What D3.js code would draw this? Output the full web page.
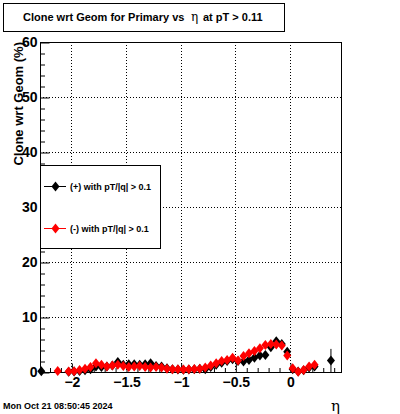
<!DOCTYPE html>
<html><head><meta charset="utf-8">
<script src="https://cdn.jsdelivr.net/npm/d3@7"></script>
<style>
html,body{margin:0;padding:0;background:#fff;}
svg{display:block;}
text{font-family:"Liberation Sans",Arial,sans-serif;}
</style></head>
<body>
<svg id="c" width="400" height="414"></svg>
<script>
// ---- data ----
const etaBins = [-2.275,-2.225,-2.175,-2.125,-2.075,-2.025,-1.975,-1.925,-1.875,-1.825,
  -1.775,-1.725,-1.675,-1.625,-1.575,-1.525,-1.475,-1.425,-1.375,-1.325,
  -1.275,-1.225,-1.175,-1.125,-1.075,-1.025,-0.975,-0.925,-0.875,-0.825,
  -0.775,-0.725,-0.675,-0.625,-0.575,-0.525,-0.475,-0.425,-0.375,-0.325,
  -0.275,-0.225,-0.175,-0.125,-0.075,-0.025,0.025,0.075,0.125,0.175,
  0.225,0.275,0.325,0.375];
const plusValues = [0.15,null,null,null,null,0.05,0.1,0.2,0.3,0.5,
  1.0,0.9,1.0,1.2,1.8,1.3,1.4,1.4,1.3,1.4,
  1.6,1.1,1.0,0.7,0.5,0.45,0.4,0.45,0.5,0.6,
  0.5,0.9,1.3,1.7,2.0,2.3,2.0,1.9,2.2,2.6,
  3.0,3.1,4.5,5.6,5.1,3.7,0.5,0.1,0.3,0.8,
  1.0,null,null,2.1];
const plusErrors = [0.1,0,0,0,0,0.05,0.1,0.15,0.2,0.25,
  0.3,0.3,0.3,0.3,0.4,0.3,0.3,0.3,0.3,0.3,
  0.3,0.3,0.3,0.25,0.2,0.2,0.2,0.2,0.2,0.25,
  0.2,0.3,0.35,0.4,0.4,0.45,0.4,0.4,0.45,0.5,
  0.5,0.5,0.6,0.7,0.6,0.6,0.3,0.1,0.2,0.4,
  0.5,0,0,2.1];
const minusValues = [null,null,null,0.2,null,0.1,0.15,0.35,0.6,0.9,
  1.6,1.3,1.0,1.2,1.3,1.1,0.9,1.0,1.1,0.9,
  0.8,0.9,0.8,0.6,0.5,0.5,0.45,0.5,0.55,0.6,
  0.8,1.2,1.6,2.0,2.2,2.6,2.1,2.9,3.4,3.8,
  4.3,4.9,5.1,5.0,4.8,3.0,0.7,0.05,0.35,1.0,
  1.3,null,null,null];
const minusErrors = [0,0,0,0.15,0,0.1,0.1,0.2,0.25,0.3,
  0.4,0.3,0.3,0.3,0.3,0.3,0.3,0.3,0.3,0.3,
  0.3,0.3,0.3,0.25,0.2,0.2,0.2,0.2,0.2,0.25,
  0.3,0.35,0.4,0.45,0.45,0.5,0.45,0.5,0.55,0.6,
  0.6,0.6,0.7,0.7,0.7,0.6,0.3,0.05,0.2,0.4,
  0.6,0,0,0];
const xMajorTicks = [-2,-1.5,-1,-0.5,0];
const xMinorTicks = [-2.2,-2.1,-1.9,-1.8,-1.7,-1.6,-1.4,-1.3,-1.2,-1.1,-0.9,-0.8,-0.7,-0.6,-0.4,-0.3,-0.2,-0.1,0.1,0.2,0.3,0.4];
const yMajorTicks = [0,10,20,30,40,50,60];
const yMinorTicks = [2,4,6,8,12,14,16,18,22,24,26,28,32,34,36,38,42,44,46,48,52,54,56,58];
const binHalfWidth = 0.025;
const titleMain = "Clone wrt Geom for Primary vs";
const titleEta = "η";
const titleRest = "at pT > 0.11";
const yTitle = "Clone wrt Geom (%)";
const xTitle = "η";
const legendLabels = ["(+) with pT/|q| > 0.1", "(-) with pT/|q| > 0.1"];
const dateText = "Mon Oct 21 08:50:45 2024";

// ---- drawing ----
const svg = d3.select("#c");
const L = 40, R = 341, T = 42, B = 372;
const x = d3.scaleLinear().domain([-2.287, 0.467]).range([L, R]);
const y = d3.scaleLinear().domain([0, 60]).range([B, T]);
const fmt = d => (d < 0 ? "\u2212" : "") + Math.abs(d);

// grid
const grid = svg.append("g").attr("stroke", "#000").attr("stroke-width", 1).attr("stroke-dasharray", "1,2");
grid.selectAll(".gx").data(xMajorTicks.filter(d => d !== 0 || true)).enter().append("line")
  .attr("x1", d => Math.round(x(d)) + 0.5).attr("x2", d => Math.round(x(d)) + 0.5)
  .attr("y1", T).attr("y2", B);
grid.selectAll(".gy").data(yMajorTicks.filter(d => d > 0 && d < 60)).enter().append("line")
  .attr("x1", L).attr("x2", R)
  .attr("y1", d => Math.round(y(d)) + 0.5).attr("y2", d => Math.round(y(d)) + 0.5);

// frame
svg.append("rect").attr("x", L + 0.5).attr("y", T + 0.5).attr("width", R - L).attr("height", B - T)
  .attr("fill", "none").attr("stroke", "#000").attr("stroke-width", 1);

// axes
const fontAx = "bold 14px 'Liberation Sans', Arial, sans-serif";
const gxMin = svg.append("g").attr("transform", `translate(0.5,${B + 0.5})`)
  .call(d3.axisBottom(x).tickValues(xMinorTicks).tickSize(-4.5).tickFormat(""));
const gxMaj = svg.append("g").attr("transform", `translate(0.5,${B + 0.5})`)
  .call(d3.axisBottom(x).tickValues(xMajorTicks).tickSize(-9).tickSizeOuter(0).tickPadding(5).tickFormat(fmt));
const gyMin = svg.append("g").attr("transform", `translate(${L + 0.5},0.5)`)
  .call(d3.axisLeft(y).tickValues(yMinorTicks).tickSize(-4.5).tickFormat(""));
const gyMaj = svg.append("g").attr("transform", `translate(${L + 0.5},0.5)`)
  .call(d3.axisLeft(y).tickValues(yMajorTicks).tickSize(-9).tickSizeOuter(0).tickPadding(3).tickFormat(fmt));
[gxMin, gxMaj, gyMin, gyMaj].forEach(g => {
  g.select(".domain").remove();
  g.selectAll("line").attr("stroke", "#000");
  g.selectAll("text").style("font", fontAx).attr("fill", "#000");
});

// data points
const diamond = "M0,-5L4,0L0,5L-4,0Z";
function drawSeries(vals, errs, color) {
  const pts = etaBins.map((e, i) => ({ e, v: vals[i], s: errs[i] })).filter(d => d.v !== null);
  const g = svg.append("g");
  g.selectAll(".ey").data(pts).enter().append("line")
    .attr("x1", d => x(d.e)).attr("x2", d => x(d.e))
    .attr("y1", d => y(Math.max(0, d.v - d.s))).attr("y2", d => y(d.v + d.s))
    .attr("stroke", color).attr("stroke-width", 1);
  g.selectAll(".ex").data(pts).enter().append("line")
    .attr("x1", d => x(d.e - binHalfWidth)).attr("x2", d => x(d.e + binHalfWidth))
    .attr("y1", d => y(d.v)).attr("y2", d => y(d.v))
    .attr("stroke", color).attr("stroke-width", 1);
  g.selectAll("path").data(pts).enter().append("path")
    .attr("d", diamond)
    .attr("transform", d => `translate(${x(d.e)},${y(d.v)})`)
    .attr("fill", color);
}
drawSeries(plusValues, plusErrors, "#000");
drawSeries(minusValues, minusErrors, "#ff0000");

// title box
svg.append("rect").attr("x", 3.5).attr("y", 3.5).attr("width", 281).attr("height", 28)
  .attr("fill", "#fff").attr("stroke", "#000");
const tt = svg.append("text").attr("y", 20.5).style("font", "bold 11px 'Liberation Sans', Arial, sans-serif");
tt.append("tspan").attr("x", 23).text(titleMain);
tt.append("tspan").attr("x", 191).style("font-weight", "normal").style("font-size", "12px")
  .style("font-family", "'DejaVu Serif', serif").text(titleEta);
tt.append("tspan").attr("x", 203).text(titleRest);

// y title
svg.append("text").attr("transform", "translate(23,42) rotate(-90)").attr("text-anchor", "end")
  .style("font", "bold 13px 'Liberation Sans', Arial, sans-serif").text(yTitle);
// x title
svg.append("text").attr("x", 340).attr("y", 411).attr("text-anchor", "end")
  .style("font", "15px 'DejaVu Serif', serif").text(xTitle);
// date
svg.append("text").attr("x", 3).attr("y", 408.5)
  .style("font", "bold 9px 'Liberation Sans', Arial, sans-serif").text(dateText);

// legend
svg.append("rect").attr("x", 40.5).attr("y", 165.5).attr("width", 120).attr("height", 83)
  .attr("fill", "#fff").attr("stroke", "#000");
const legColors = ["#000", "#ff0000"];
const legY = [186.5, 228.5];
legendLabels.forEach((lab, i) => {
  svg.append("line").attr("x1", 44).attr("x2", 66).attr("y1", legY[i]).attr("y2", legY[i])
    .attr("stroke", legColors[i]);
  svg.append("path").attr("d", diamond).attr("transform", `translate(55.5,${legY[i]})`).attr("fill", legColors[i]);
  svg.append("text").attr("x", 70).attr("y", legY[i] + 3.5)
    .style("font", "bold 9px 'Liberation Sans', Arial, sans-serif").text(lab);
});
</script>
</body></html>
